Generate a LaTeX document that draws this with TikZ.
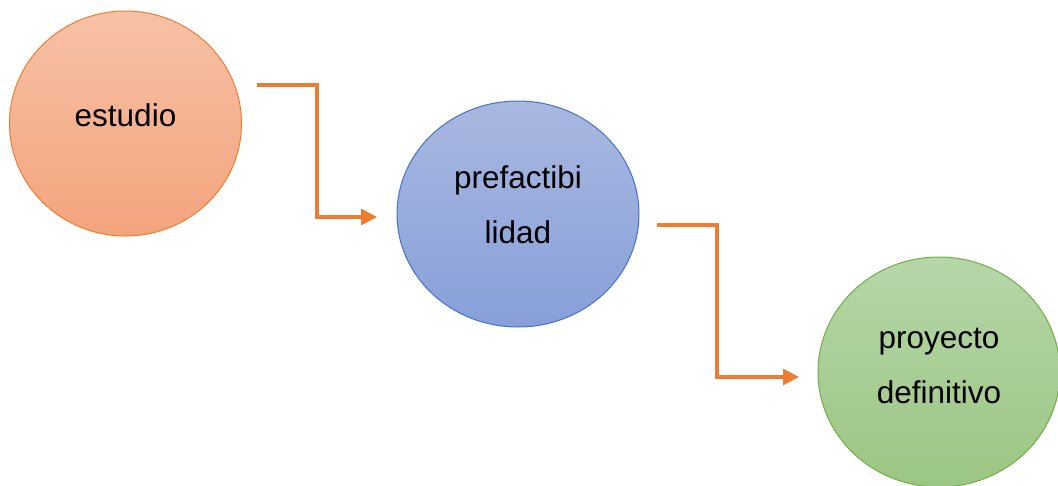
\documentclass[tikz,border=0pt]{standalone}
\usepackage{fontspec}
\setmainfont{Liberation Sans}
\usetikzlibrary{arrows.meta,shapes.geometric}
\definecolor{orgline}{HTML}{ED7D31}
\definecolor{orgtop}{HTML}{F7C1A6}
\definecolor{orgbot}{HTML}{F4A47D}
\definecolor{blueline}{HTML}{4472C4}
\definecolor{bluetop}{HTML}{A9B8E0}
\definecolor{bluebot}{HTML}{879FD9}
\definecolor{greenline}{HTML}{70AD47}
\definecolor{greentop}{HTML}{B6D6A8}
\definecolor{greenbot}{HTML}{9CC683}
\tikzset{
  stage/.style={ellipse, inner sep=0pt, line width=1pt},
  lbl/.style={anchor=base, align=center, inner sep=0pt,
    font=\fontsize{31.5pt}{55pt}\selectfont},
  flow/.style={draw=orgline, line width=3.2pt, line join=miter,
    -{Triangle[length=16pt,width=16pt]}}
}
\begin{document}
\begin{tikzpicture}[x=1pt,y=-1pt]
\useasboundingbox (0,0) rectangle (1058,485);
\node[stage, draw=orgline, top color=orgtop, bottom color=orgbot,
  minimum width=232pt, minimum height=225pt] (s1) at (125.5,123.5) {};
\node[stage, draw=blueline, top color=bluetop, bottom color=bluebot,
  minimum width=242pt, minimum height=226pt] (s2) at (518,214) {};
\node[stage, draw=greenline, top color=greentop, bottom color=greenbot,
  minimum width=242pt, minimum height=230pt] (s3) at (939,372) {};
\node[lbl] (t1) at ([yshift=-2.5pt]s1.center) {estudio};
\node[lbl] (t2) at ([yshift=-29pt]s2.center) {prefactibi\\lidad};
\node[lbl] (t3) at ([yshift=-31pt]s3.center) {proyecto\\definitivo};
\coordinate (a1s) at (257,85);
\coordinate (a1e) at (377,217);
\coordinate (a2s) at (657,225);
\coordinate (a2e) at (799,377);
\draw[flow] (a1s) -| (317,217) -- (a1e);
\draw[flow] (a2s) -| (717,377) -- (a2e);
\end{tikzpicture}
\end{document}
